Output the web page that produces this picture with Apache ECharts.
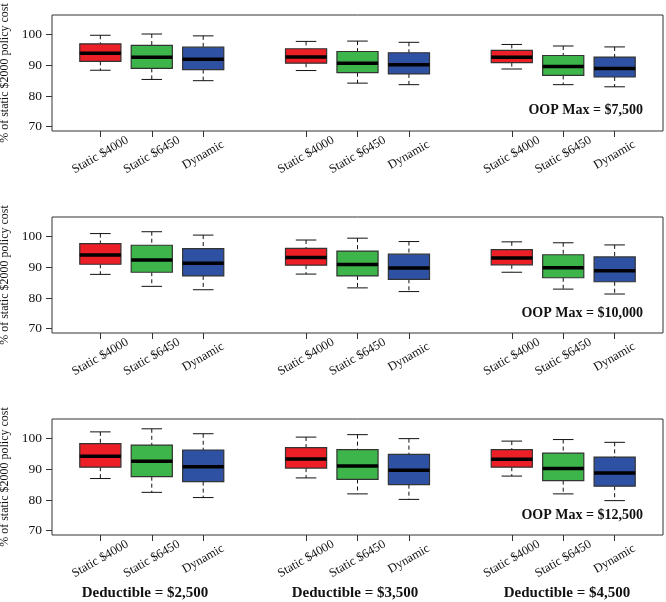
<!DOCTYPE html>
<html>
<head>
<meta charset="utf-8">
<script src="https://cdn.jsdelivr.net/npm/echarts@6/dist/echarts.min.js"></script>
<style>html,body{margin:0;padding:0;background:#fff;}#c{width:666px;height:602px;}</style>
</head>
<body>
<div id="c"></div>
<script>
// ---- data ----
const boxNames = ['Static $4000', 'Static $6450', 'Dynamic'];
const positions = [1, 2, 3, 5, 6, 7, 9, 10, 11];
const yTicks = [70, 80, 90, 100];
const panelLabels = ['OOP Max = $7,500', 'OOP Max = $10,000', 'OOP Max = $12,500'];
const groupLabels = ['Deductible = $2,500', 'Deductible = $3,500', 'Deductible = $4,500'];
const yTitle = '% of static $2000 policy cost';
// each box: [lower whisker, Q1, median, Q3, upper whisker]
const oop7500 = [
  [88.4, 91.3, 93.9, 97.0, 99.8], [85.4, 89.0, 92.6, 96.5, 100.2], [85.0, 88.6, 92.0, 95.9, 99.6],
  [88.3, 90.7, 92.7, 95.4, 97.8], [84.2, 87.6, 90.7, 94.5, 97.9], [83.7, 87.2, 90.2, 94.1, 97.5],
  [88.8, 90.9, 92.6, 94.9, 96.8], [83.7, 86.7, 89.6, 93.2, 96.3], [83.0, 86.2, 89.0, 92.7, 96.0]
];
const oop10000 = [
  [87.7, 91.0, 94.0, 97.7, 101.0], [83.8, 88.4, 92.4, 97.2, 101.6], [82.7, 87.2, 91.3, 96.1, 100.5],
  [87.8, 90.7, 93.2, 96.2, 98.9], [83.3, 87.2, 90.9, 95.3, 99.5], [82.1, 86.1, 89.8, 94.3, 98.4],
  [88.4, 90.8, 93.0, 95.8, 98.3], [82.9, 86.6, 89.9, 94.1, 98.0], [81.3, 85.3, 88.9, 93.4, 97.3]
];
const oop12500 = [
  [87.0, 90.7, 94.3, 98.4, 102.2], [82.5, 87.6, 92.6, 97.9, 103.2], [80.8, 86.0, 90.8, 96.3, 101.6],
  [87.2, 90.4, 93.4, 97.1, 100.5], [82.0, 86.7, 91.1, 96.4, 101.3], [80.2, 85.0, 89.7, 94.9, 100.0],
  [87.8, 90.7, 93.3, 96.4, 99.2], [82.0, 86.3, 90.3, 95.3, 99.7], [79.8, 84.5, 88.8, 94.0, 98.8]
];
const panels = [oop7500, oop10000, oop12500];

// ---- styling ----
const fills = ['#EC1F26', '#3DB54A', '#2F51A3'];
const FONT = 'Liberation Serif';
const gridTops = [15, 217, 419];
const gridH = 116;

const grids = [], xAxes = [], yAxes = [], series = [], graphics = [];
panels.forEach((stats, p) => {
  grids.push({left: 52, right: 3, top: gridTops[p], height: gridH, show: true,
    outerBoundsMode: 'none', containLabel: false,
    borderColor: '#333', borderWidth: 1, backgroundColor: 'transparent'});
  xAxes.push({type: 'value', gridIndex: p, min: 0.06, max: 11.94,
    axisLine: {show: false}, splitLine: {show: false},
    axisTick: {show: true, customValues: positions, length: 6, lineStyle: {color: '#333'}},
    axisLabel: {show: true, customValues: positions, rotate: 30, align: 'center', verticalAlign: 'middle',
      margin: 24, fontFamily: FONT, fontSize: 12.5, color: '#111',
      formatter: v => boxNames[positions.indexOf(Math.round(v)) % 3]}});
  yAxes.push({type: 'value', gridIndex: p, min: 68.6, max: 106.4,
    name: yTitle, nameLocation: 'middle', nameGap: 36,
    nameTextStyle: {fontFamily: FONT, fontSize: 12, color: '#111'},
    axisLine: {show: false}, splitLine: {show: false},
    axisTick: {show: true, customValues: yTicks, length: 6, lineStyle: {color: '#333'}},
    axisLabel: {show: true, customValues: yTicks, margin: 10, fontFamily: FONT, fontSize: 13.5, color: '#111'}});
  series.push({type: 'custom', xAxisIndex: p, yAxisIndex: p,
    data: stats.map((s, i) => [positions[i]].concat(s).concat([i % 3])),
    encode: {x: 0, y: [1, 2, 3, 4, 5]},
    renderItem: (params, api) => {
      const x = api.value(0);
      const lo = api.coord([x, api.value(1)]), q1 = api.coord([x, api.value(2)]);
      const med = api.coord([x, api.value(3)]), q3 = api.coord([x, api.value(4)]);
      const hi = api.coord([x, api.value(5)]);
      const hw = api.size([0.8, 0])[0] / 2, cw = hw / 2;
      const cx = lo[0];
      const fill = fills[api.value(6)];
      const ln = {stroke: '#111', lineWidth: 1};
      return {type: 'group', children: [
        {type: 'line', shape: {x1: cx, y1: hi[1], x2: cx, y2: q3[1]}, style: {stroke: '#111', lineWidth: 1, lineDash: [4, 3]}},
        {type: 'line', shape: {x1: cx, y1: q1[1], x2: cx, y2: lo[1]}, style: {stroke: '#111', lineWidth: 1, lineDash: [4, 3]}},
        {type: 'line', shape: {x1: cx - cw, y1: hi[1], x2: cx + cw, y2: hi[1]}, style: ln},
        {type: 'line', shape: {x1: cx - cw, y1: lo[1], x2: cx + cw, y2: lo[1]}, style: ln},
        {type: 'rect', shape: {x: cx - hw, y: q3[1], width: 2 * hw, height: q1[1] - q3[1]},
          style: {fill: fill, stroke: '#333', lineWidth: 1.2}},
        {type: 'line', shape: {x1: cx - hw, y1: med[1], x2: cx + hw, y2: med[1]}, style: {stroke: '#000', lineWidth: 3.5}}
      ]};
    }});
  graphics.push({type: 'text', right: 23, top: [103, 306, 508][p],
    style: {text: panelLabels[p], font: 'bold 14px "' + FONT + '"', fill: '#111'}});
});
const groupCenters = [145, 355, 567];
groupLabels.forEach((t, i) => {
  graphics.push({type: 'text', x: groupCenters[i], y: 593,
    style: {text: t, font: 'bold 15px "' + FONT + '"', fill: '#111', align: 'center', verticalAlign: 'middle'}});
});

const chart = echarts.init(document.getElementById('c'), null, {renderer: 'canvas'});
chart.setOption({
  animation: false, backgroundColor: '#fff',
  grid: grids, xAxis: xAxes, yAxis: yAxes, series: series, graphic: graphics
});
</script>
</body>
</html>
